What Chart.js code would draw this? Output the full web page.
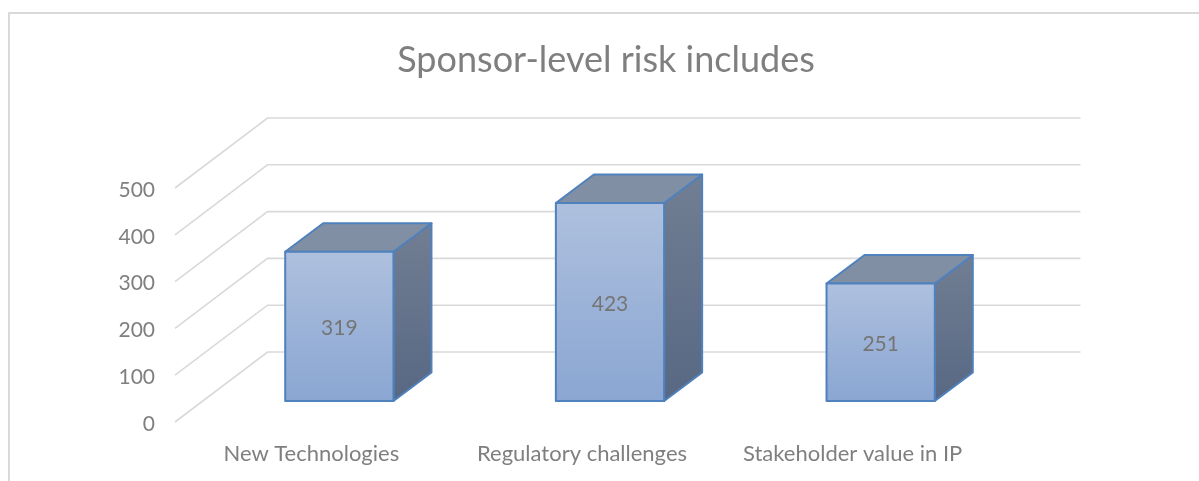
<!DOCTYPE html>
<html><head><meta charset="utf-8">
<script src="https://cdn.jsdelivr.net/npm/chart.js@4/dist/chart.umd.js"></script>
<style>html,body{margin:0;padding:0;background:#fff}canvas{display:block}</style>
</head><body><canvas id="c" width="1199" height="481"></canvas>
<script>
const categories = ["New Technologies", "Regulatory challenges", "Stakeholder value in IP"];
const riskValues = [319, 423, 251];
const yTicks = [0, 100, 200, 300, 400, 500];
const titleText = "Sponsor-level risk includes";

const FONT = "Lato";
const GRID = "#d9d9d9", EDGE = "#4f81bd", TEXT = "#7f7f7f";
const LIFT = -2;                       // grid sits slightly above the axis labels' baseline pixel
const WALL = {dx: 92.5, dy: -70};      // floor depth of the plot
const PLANE = {dx: 28, dy: -21 + LIFT}; // where the bars' front faces sit
const BAR = {dx: 38, dy: -28.5};       // depth of each bar

function poly(ctx, pts, fill, stroke) {
  ctx.beginPath();
  pts.forEach((p, i) => i ? ctx.lineTo(p[0], p[1]) : ctx.moveTo(p[0], p[1]));
  ctx.closePath();
  if (fill) { ctx.fillStyle = fill; ctx.fill(); }
  if (stroke) { ctx.strokeStyle = stroke; ctx.lineWidth = 2; ctx.lineJoin = "round"; ctx.stroke(); }
}
function grad(ctx, y0, y1, a, b) {
  const g = ctx.createLinearGradient(0, y0, 0, y1);
  g.addColorStop(0, a); g.addColorStop(1, b);
  return g;
}

const box3d = {
  id: "box3d",
  afterLayout(chart) {
    // centre the title over the frame rather than over the plot
    chart.titleBlock.left = 13; chart.titleBlock.right = 1199;
  },
  beforeDraw(chart) {
    const ctx = chart.ctx;
    ctx.save();
    ctx.strokeStyle = GRID; ctx.lineWidth = 2;
    ctx.beginPath(); ctx.moveTo(9, 481); ctx.lineTo(9, 13); ctx.lineTo(1199, 13); ctx.stroke();
    ctx.restore();
  },
  beforeDatasetsDraw(chart) {
    const ctx = chart.ctx, y = chart.scales.y, a = chart.chartArea;
    ctx.save();
    ctx.strokeStyle = GRID; ctx.lineWidth = 1.6;
    yTicks.forEach(v => {
      const p = y.getPixelForValue(v) + LIFT;
      ctx.beginPath();
      ctx.moveTo(a.left - 1, p);
      ctx.lineTo(a.left - 1 + WALL.dx, p + WALL.dy);
      ctx.lineTo(a.right + WALL.dx, p + WALL.dy);
      ctx.stroke();
    });
    ctx.restore();
  },
  beforeDatasetDraw(chart, args) {
    const ctx = chart.ctx;
    ctx.save();
    ctx.translate(PLANE.dx, PLANE.dy);
    args.meta.data.forEach(el => {
      const l = el.x - el.width / 2, r = el.x + el.width / 2, t = el.y, b = el.base;
      poly(ctx, [[r, t], [r + BAR.dx, t + BAR.dy], [r + BAR.dx, b + BAR.dy], [r, b]],
        grad(ctx, t + BAR.dy, b, "#717e93", "#586883"), EDGE);
      poly(ctx, [[l, t], [l + BAR.dx, t + BAR.dy], [r + BAR.dx, t + BAR.dy], [r, t]],
        "#818fa5", EDGE);
    });
  },
  afterDatasetDraw(chart, args) {
    const ctx = chart.ctx;
    args.meta.data.forEach(el => {
      const l = el.x - el.width / 2, r = el.x + el.width / 2;
      poly(ctx, [[l, el.y], [r, el.y], [r, el.base], [l, el.base]], null, EDGE);
    });
    ctx.restore();
  },
  afterDatasetsDraw(chart) {
    const ctx = chart.ctx, meta = chart.getDatasetMeta(0);
    ctx.save();
    ctx.font = "21px " + FONT; ctx.fillStyle = "#757575";
    ctx.textAlign = "center"; ctx.textBaseline = "middle";
    meta.data.forEach((el, i) => {
      ctx.fillText(String(riskValues[i]), el.x + PLANE.dx, (el.y + el.base) / 2 + PLANE.dy + 2);
    });
    ctx.restore();
  }
};

new Chart(document.getElementById("c"), {
  type: "bar",
  data: {
    labels: categories,
    datasets: [{
      data: riskValues,
      borderWidth: 0,
      barPercentage: 0.4,
      categoryPercentage: 1,
      backgroundColor(c) {
        const y = c.chart.scales.y;
        if (c.type !== "data" || !y) return "#9db2d8";
        const top = y.getPixelForValue(c.parsed ? c.parsed.y : NaN), base = y.getPixelForValue(0);
        if (!isFinite(top) || !isFinite(base)) return "#9db2d8";
        return grad(c.chart.ctx, top, base, "#aec0de", "#8aa6d2");
      }
    }]
  },
  plugins: [box3d],
  options: {
    responsive: false,
    animation: false,
    events: [],
    layout: {padding: {left: 13, right: 211, top: 0, bottom: 0}},
    plugins: {
      legend: {display: false},
      tooltip: {enabled: false},
      title: {
        display: true,
        text: titleText,
        color: TEXT,
        font: {family: FONT, size: 36, weight: "normal", lineHeight: 1.2},
        padding: {top: 38.4, bottom: 108.4}
      }
    },
    scales: {
      x: {
        grid: {display: false, drawTicks: false},
        border: {display: false},
        ticks: {color: TEXT, font: {family: FONT, size: 22}, padding: 17, maxRotation: 0, autoSkip: false},
        afterFit(s) { s.height = 57; }
      },
      y: {
        min: 0, max: 500,
        grid: {display: false, drawTicks: false},
        border: {display: false},
        afterBuildTicks(s) { s.ticks = yTicks.map(v => ({value: v})); },
        ticks: {color: TEXT, font: {family: FONT, size: 21}, padding: 21},
        afterFit(s) { s.width = 163; }
      }
    }
  }
});
</script></body></html>
